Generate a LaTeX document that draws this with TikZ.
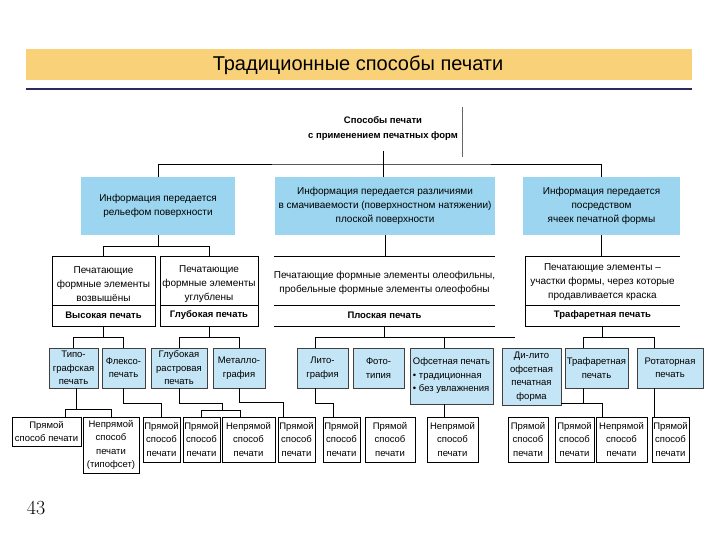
\documentclass[tikz,border=0pt]{standalone}
\usepackage{fontspec}
\newfontfamily\arial{Liberation Sans}
\definecolor{titlebar}{RGB}{249,209,120}
\definecolor{navyline}{RGB}{44,42,100}
\definecolor{blueone}{RGB}{155,213,240}
\definecolor{bluetwo}{RGB}{196,229,245}
\tikzset{
  conn/.style={draw=black, line width=0.7pt},
  lone/.style={fill=blueone, inner sep=0pt, align=center, font=\arial\fontsize{10}{14}\selectfont},
  lthree/.style={fill=bluetwo, draw=black!75, line width=0.6pt, inner sep=0pt, align=center, minimum height=40pt, font=\arial\fontsize{9.5}{13.5}\selectfont},
  lfour/.style={draw=black, line width=0.6pt, inner sep=0pt, align=center, minimum height=45pt, font=\arial\fontsize{9.5}{13.5}\selectfont},
  wbox/.style={inner sep=0pt, minimum height=70pt},
  wtext/.style={inner sep=0pt, align=center, font=\arial\fontsize{10}{14}\selectfont},
  wbold/.style={inner sep=0pt, align=center, font=\arial\bfseries\fontsize{9.5}{12}\selectfont},
  wline/.style={draw=black, line width=0.6pt}
}
\begin{document}
\begin{tikzpicture}[x=1pt,y=-1pt]
\useasboundingbox (0,0) rectangle (720,540);
% title
\node[fill=titlebar, minimum width=666pt, minimum height=31pt, inner sep=0pt] (title) at (359,64.5) {};
\node[font=\arial\fontsize{20}{22}\selectfont, inner sep=0pt] (titletext) at (358,65) {Традиционные способы печати};
\draw[navyline, line width=2pt] (26,89) -- (692,89);
% top
\node[font=\arial\bfseries\fontsize{9.5}{15}\selectfont, align=center, inner sep=1pt] (top) at (383,128.5) {Способы печати\\с применением печатных форм};
\draw[black!60, line width=0.5pt] (462,107) -- (462,157);
% level 1
\node[lone, minimum width=154pt, minimum height=58pt] (b1) at (158,206) {Информация передается\\рельефом поверхности};
\node[lone, minimum width=220pt, minimum height=58pt] (b2) at (385,206) {Информация передается различиями\\в смачиваемости (поверхностном натяжении)\\плоской поверхности};
\node[lone, minimum width=157pt, minimum height=58pt] (b3) at (601.5,206) {Информация передается\\посредством\\ячеек печатной формы};
\coordinate (jt) at (383,164);
\draw[conn] ([yshift=-9pt]top.south) -- (jt);
\draw[conn] (b1.north) |- (jt) -| (b3.north);
\draw[conn] (jt) -- (jt |- b2.north);
% level 2
\node[wbox, wline, minimum width=103pt] (w1) at (103.5,291) {};
\node[wbox, wline, minimum width=98pt] (w2) at (209,291) {};
\node[wbox, minimum width=221pt] (w3) at (384.5,291) {};
\node[wbox, minimum width=155pt] (w4) at (602.5,291) {};
\foreach \w in {w1,w2,w3,w4}{
  \draw[wline] ([yshift=21pt]\w.south west) -- ([yshift=21pt]\w.south east);
}
\draw[wline] (w3.north west) -- (w3.north east);
\draw[wline] (w3.south west) -- (w3.south east);
\draw[wline] (w4.north east) -- (w4.north west) -- (w4.south west) -- (w4.south east);
\node[wtext] (w1t) at (103.5,284) {Печатающие\\формные элементы\\возвышёны};
\node[wtext] (w2t) at (209,284) {Печатающие\\формные элементы\\углублены};
\node[wtext] (w3t) at (384.5,283) {Печатающие формные элементы олеофильны,\\пробельные формные элементы олеофобны};
\node[wtext] (w4t) at (602.5,282) {Печатающие элементы –\\участки формы, через которые\\продавливается краска};
\node[wbold] (w1b) at (103.5,315.5) {Высокая печать};
\node[wbold] (w2b) at (209,315.5) {Глубокая печать};
\node[wbold] (w3b) at (384.5,315.5) {Плоская печать};
\node[wbold] (w4b) at (602.5,315.5) {Трафаретная печать};
\draw[conn] (b1.south) -- ++(0,11) coordinate (jb1);
\draw[conn] (w1.north) |- (jb1) -| (w2.north);
\draw[conn] (b2.south) -- (b2.south |- w3.north);
\draw[conn] (b3.south) -- (b3.south |- w4.north);
% level 3
\node[lthree, minimum width=49pt] (typo) at (73.5,368) {Типо-\\графская\\печать};
\node[lthree, minimum width=43pt] (flexo) at (123.5,368) {Флексо-\\печать};
\node[lthree, minimum width=56pt] (glub) at (179,368) {Глубокая\\растровая\\печать};
\node[lthree, minimum width=52pt] (metal) at (239,368) {Металло-\\графия};
\node[lthree, minimum width=51pt] (lito) at (322.5,368) {Лито-\\графия};
\node[lthree, minimum width=51pt] (foto) at (378.5,368) {Фото-\\типия};
\node[lthree, minimum width=83pt, minimum height=56pt, align=left] (ofset) at (451.5,376) {Офсетная печать\\• традиционная\\• без увлажнения};
\node[lthree, minimum width=59pt, minimum height=57pt] (dilito) at (531.5,376.5) {Ди-лито\\офсетная\\печатная\\форма};
\node[lthree, minimum width=63pt] (traf) at (596.5,368) {Трафаретная\\печать};
\node[lthree, minimum width=66pt] (rotat) at (670,368) {Ротаторная\\печать};
\draw[conn] (w1.south) -- ++(0,11) coordinate (j1);
\draw[conn] (typo.north) |- (j1) -| (flexo.north);
\draw[conn] (w2.south) -- ++(0,11) coordinate (j2);
\draw[conn] (glub.north) |- (j2) -| (metal.north);
\coordinate (j5) at (384.5,337);
\draw[conn] (w3.south) -- (j5);
\draw[conn] ([xshift=-7pt]lito.north) |- (515,337);
\draw[conn] ([xshift=-7pt]ofset.north) -- ([xshift=-7pt]ofset.north |- j5);
\draw[conn] (w4.south) -- ++(0,11) coordinate (j6);
\draw[conn] ([xshift=-13.5pt]traf.north) |- (j6) -| ([xshift=-16pt]rotat.north);
% level 4
\node[lfour, minimum width=69pt, minimum height=29pt] (pa) at (46.5,431.5) {Прямой\\способ печати};
\node[lfour, minimum width=56pt, minimum height=56pt] (pb) at (111,445) {Непрямой\\способ\\печати\\(типофсет)};
\node[lfour, minimum width=37pt] (pc) at (161.5,439.5) {Прямой\\способ\\печати};
\node[lfour, minimum width=37pt] (pd) at (201.5,439.5) {Прямой\\способ\\печати};
\node[lfour, minimum width=53pt] (pe) at (248.5,439.5) {Непрямой\\способ\\печати};
\node[lfour, minimum width=37pt] (pf) at (296.5,439.5) {Прямой\\способ\\печати};
\node[lfour, minimum width=37pt] (pg) at (341.5,439.5) {Прямой\\способ\\печати};
\node[lfour, minimum width=50pt] (ph) at (390,439.5) {Прямой\\способ\\печати};
\node[lfour, minimum width=51pt] (pi) at (452.5,439.5) {Непрямой\\способ\\печати};
\node[lfour, minimum width=40pt] (pj) at (528,439.5) {Прямой\\способ\\печати};
\node[lfour, minimum width=39pt] (pk) at (574.5,439.5) {Прямой\\способ\\печати};
\node[lfour, minimum width=51pt] (pl) at (621.5,439.5) {Непрямой\\способ\\печати};
\node[lfour, minimum width=37pt] (pm) at (670.5,439.5) {Прямой\\способ\\печати};
% level 3 -> level 4
\draw[conn] ([xshift=3pt]typo.south) -- ++(0,21) coordinate (j7);
\draw[conn] ([xshift=18.5pt]pa.north) |- (j7) -| (pb.north);
\draw[conn] (flexo.south) -- ++(0,15) -| (pc.north);
\draw[conn] (glub.south) -- ++(0,15) -- ++(43,0) -- ++(0,7) coordinate (j8);
\draw[conn] (pd.north) |- (j8) -| ([xshift=-8pt]pe.north);
\draw[conn] (metal.south) -- ++(0,14) -| ([xshift=-13pt]pf.north);
\draw[conn] ([xshift=-7pt]lito.south) -- ++(0,15) -| ([xshift=-8pt]pg.north);
\draw[conn] ([xshift=-7pt]ofset.south) -- ([xshift=-8pt]pi.north);
\draw[conn] ([xshift=-13.5pt]traf.south) -- ++(0,15) coordinate (j9);
\draw[conn] (dilito.east |- j9) -| ([xshift=-19pt]pl.north);
\draw[conn] ([xshift=-16pt]rotat.south) -- ([xshift=-16pt]rotat.south |- pm.north);
% page number
\node[font=\fontsize{20}{22}\selectfont, inner sep=0pt] (pagenum) at (36,508) {43};
\end{tikzpicture}
\end{document}
